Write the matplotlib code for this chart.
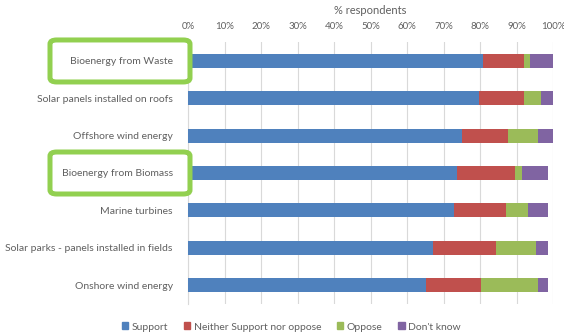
import matplotlib
matplotlib.use('Agg')
import matplotlib.pyplot as plt
from matplotlib.patches import FancyBboxPatch, Rectangle
import numpy as np

# survey results, % of respondents
technologies = ['Bioenergy from Waste', 'Solar panels installed on roofs', 'Offshore wind energy',
                'Bioenergy from Biomass', 'Marine turbines', 'Solar parks - panels installed in fields',
                'Onshore wind energy']
support = [80.7, 79.8, 75.2, 73.6, 73.0, 67.2, 65.2]
neither = [11.4, 12.3, 12.4, 15.9, 14.1, 17.1, 15.1]
oppose = [1.7, 4.7, 8.4, 2.0, 6.0, 11.0, 15.7]
dont_know = [6.2, 3.2, 4.0, 7.1, 5.5, 3.3, 2.6]
responses = ['Support', 'Neither Support nor oppose', 'Oppose', "Don't know"]
highlighted = ['Bioenergy from Waste', 'Bioenergy from Biomass']

colors = ['#4F81BD', '#C0504D', '#9BBB59', '#8064A2']
text_color = '#606060'
plt.rcParams['font.family'] = ['Lato', 'DejaVu Sans']

W, H = 564, 335
fig = plt.figure(figsize=(W / 100, H / 100), dpi=100)
ax = fig.add_axes([188 / W, 1 - 303.7 / H, 365 / W, 261.4 / H])

y = np.arange(len(technologies))
left = np.zeros(len(technologies))
for vals, col, name in zip([support, neither, oppose, dont_know], colors, responses):
    ax.barh(y, vals, left=left, height=0.38, color=col, label=name, zorder=3)
    left += np.array(vals)

ax.set_ylim(len(technologies) - 0.5, -0.5)
ax.set_xlim(0, 100)
ax.set_xticks(np.arange(0, 101, 10))
ax.set_xticklabels([f'{v}%' for v in range(0, 101, 10)])
ax.xaxis.tick_top()
ax.xaxis.set_label_position('top')
ax.set_xlabel('% respondents', fontsize=8, color=text_color, labelpad=6)
ax.tick_params(axis='x', length=0, labelsize=7, labelcolor=text_color, pad=8)
ax.grid(axis='x', color='#D9D9D9', linewidth=0.8, zorder=0)

ax.set_yticks(y)
ax.set_yticklabels(technologies)
ax.tick_params(axis='y', length=0, labelsize=7.5, labelcolor=text_color, pad=11)

for side in ['top', 'right', 'bottom']:
    ax.spines[side].set_visible(False)
ax.spines['left'].set_color('#D9D9D9')

# green outline round the bioenergy labels
for lab in ax.get_yticklabels():
    if lab.get_text() in highlighted:
        i = technologies.index(lab.get_text())
        yc = ax.transData.transform((0, i))[1]
        box = FancyBboxPatch((50 / W, (yc - 21) / H), 140 / W, 42 / H,
                             boxstyle='round,pad=0,rounding_size=0.012',
                             transform=fig.transFigure, fill=False,
                             edgecolor='#92D050', linewidth=3.6, zorder=10)
        fig.patches.append(box)

handles = [Rectangle((0, 0), 1, 1, color=c) for c in colors]
fig.legend(handles, responses, loc='center', bbox_to_anchor=(291 / W, 1 - 327 / H), ncol=4,
           frameon=False, fontsize=7.5, labelcolor=text_color, handlelength=0.65, handleheight=0.65,
           handletextpad=0.3, columnspacing=1.5)

fig.savefig('out.png', dpi=100)
